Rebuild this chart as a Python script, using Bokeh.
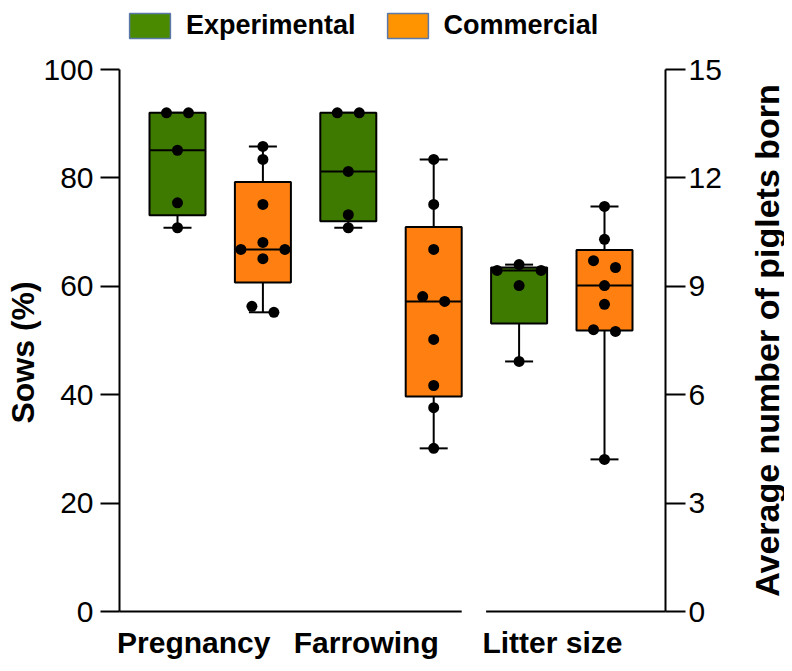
import numpy as np
from bokeh.plotting import figure
from bokeh.models import Range1d, LinearAxis, FixedTicker, Legend, LegendItem, Label
from bokeh.embed import file_html
from bokeh.resources import INLINE

# ---------------- data ----------------
groups = ["Pregnancy", "Farrowing", "Litter size"]
series_names = ["Experimental", "Commercial"]

pregnancy_experimental = [92.0, 92.0, 85.1, 75.4, 70.8]
pregnancy_commercial = [85.8, 83.4, 75.1, 68.1, 66.8, 66.8, 65.1, 56.3, 55.2]
farrowing_experimental = [92.0, 92.0, 81.2, 73.2, 70.8]
farrowing_commercial = [83.4, 75.1, 66.8, 58.1, 57.2, 50.2, 41.7, 37.6, 30.1]
litter_experimental = [9.6, 9.44, 9.44, 9.02, 6.92]
litter_commercial = [11.21, 10.30, 9.71, 9.52, 9.02, 8.50, 7.80, 7.75, 4.21]

left_ticks = [0, 20, 40, 60, 80, 100]
right_ticks = [0, 3, 6, 9, 12, 15]
left_title = "Sows (%)"
right_title_text = "Average number of piglets born"

# ---------------- layout / style ----------------
FONT = "Liberation Sans"
GREEN, ORANGE = "#3f7a00", "#ff8010"
LEG_GREEN, LEG_ORANGE, LEG_BORDER = "#4a8a00", "#ff9300", "#5a78a8"
W, H = 784, 663                 # canvas == frame
AX_L_PX, AX_R_PX = 119, 665     # screen x of the two value axes
TOP_PX, ZERO_PX = 69, 611       # screen y of axis top / zero line
BOX1_PX, PITCH_PX = 177, 85.4   # first box centre, box spacing
BOX_PX, DOT_PX = 56, 11
LABEL_SHIFT = [0.19, 0.21, 0.39]   # category label offset from group's first box
LEFT_MAX, RIGHT_MAX = left_ticks[-1], right_ticks[-1]

px_x = PITCH_PX
px_y = (ZERO_PX - TOP_PX) / LEFT_MAX
x_lo, x_hi = 1 - BOX1_PX / px_x, 1 + (W - BOX1_PX) / px_x
y_lo, y_hi = -(H - ZERO_PX) / px_y, LEFT_MAX + TOP_PX / px_y
X_AXIS_L = 1 - (BOX1_PX - AX_L_PX) / px_x
X_AXIS_R = 1 + (AX_R_PX - BOX1_PX) / px_x
box_w = BOX_PX / px_x
cap_w = box_w / 2

boxes = [
    (pregnancy_experimental, GREEN, 1.0),
    (pregnancy_commercial, ORANGE, 1.0),
    (farrowing_experimental, GREEN, 1.0),
    (farrowing_commercial, ORANGE, 1.0),
    (litter_experimental, GREEN, LEFT_MAX / RIGHT_MAX),
    (litter_commercial, ORANGE, LEFT_MAX / RIGHT_MAX),
]


def swarm(vals):
    """Beeswarm slot offsets (in dot units) for values in left-axis units."""
    ys = [v * px_y for v in vals]
    n = len(ys)
    order = sorted(range(n), key=lambda i: -ys[i])
    placed, slots = [], [0] * n
    for i in order:
        y = ys[i]
        for k in [0, 1, -1, 2, -2, 3, -3, 4, -4]:
            if all(not (abs(y - py) < DOT_PX and abs(k - pk) < 2) for py, pk in placed):
                break
        placed.append((y, k))
        slots[i] = k
    cluster, clusters = [order[0]], []
    for a, b in zip(order[:-1], order[1:]):
        if abs(ys[a] - ys[b]) < DOT_PX:
            cluster.append(b)
        else:
            clusters.append(cluster)
            cluster = [b]
    clusters.append(cluster)
    for c in clusters:
        ks = [slots[i] for i in c]
        shift = -(min(ks) + max(ks)) / 2
        for i in c:
            slots[i] += shift
    return slots


xc, q1s, meds, q3s, mins, maxs, fills = [], [], [], [], [], [], []
px_pts, py_pts = [], []
for idx, (vals, col, scale) in enumerate(boxes):
    x = idx + 1
    v = np.array(vals) * scale
    q1, med, q3 = np.percentile(v, [25, 50, 75], method="weibull")
    xc.append(x); q1s.append(q1); meds.append(med); q3s.append(q3)
    mins.append(v.min()); maxs.append(v.max()); fills.append(col)
    for s, val in zip(swarm(list(v)), v):
        px_pts.append(x + s * DOT_PX / px_x)
        py_pts.append(val)
xc = np.array(xc, dtype=float)

p = figure(width=W, height=H, x_range=Range1d(x_lo, x_hi), y_range=Range1d(y_lo, y_hi),
           x_axis_location=None, y_axis_location=None,
           output_backend="svg", toolbar_location=None, min_border=0,
           outline_line_color=None, background_fill_color="white", border_fill_color="white")
p.grid.visible = False

# whiskers + caps
p.segment(x0=xc, x1=xc, y0=q3s, y1=maxs, line_color="black", line_width=2)
p.segment(x0=xc, x1=xc, y0=q1s, y1=mins, line_color="black", line_width=2)
p.segment(x0=xc - cap_w / 2, x1=xc + cap_w / 2, y0=maxs, y1=maxs, line_color="black", line_width=2)
p.segment(x0=xc - cap_w / 2, x1=xc + cap_w / 2, y0=mins, y1=mins, line_color="black", line_width=2)
# boxes + medians
p.vbar(x=xc, width=box_w, top=q3s, bottom=q1s, fill_color=fills, line_color="black", line_width=2)
p.segment(x0=xc - box_w / 2, x1=xc + box_w / 2, y0=meds, y1=meds, line_color="black", line_width=2)
# individual points
p.scatter(px_pts, py_pts, size=DOT_PX, fill_color="black", line_color=None)

# broken x axis line
brk_l = 4 + box_w / 2
brk_r = 5 - box_w / 2 - 5 / px_x
p.segment(x0=[X_AXIS_L, brk_r], x1=[brk_l, X_AXIS_R], y0=[0, 0], y1=[0, 0],
          line_color="black", line_width=2)

# category axis (labels only)
label_x = [1 + 2 * i + LABEL_SHIFT[i] for i in range(len(groups))]
xa = LinearAxis(fixed_location=0, ticker=FixedTicker(ticks=label_x),
                major_label_overrides={lx: g for lx, g in zip(label_x, groups)})
xa.axis_line_color = None
xa.major_tick_line_color = None
xa.minor_tick_line_color = None
xa.major_tick_out = 0
xa.major_label_standoff = 14
xa.major_label_text_font = FONT
xa.major_label_text_font_style = "bold"
xa.major_label_text_font_size = "30px"
xa.major_label_text_color = "black"
p.add_layout(xa, "below")

# left axis
ya = LinearAxis(fixed_location=X_AXIS_L, ticker=FixedTicker(ticks=left_ticks), bounds=(0, LEFT_MAX))
ya.axis_line_width = 2
ya.major_tick_line_width = 2
ya.major_tick_out = 19
ya.major_tick_in = 0
ya.minor_tick_line_color = None
ya.major_label_text_font = FONT
ya.major_label_text_font_size = "30px"
ya.major_label_text_color = "black"
ya.major_label_standoff = 7
p.add_layout(ya, "left")

# right axis
p.extra_y_ranges = {"right": Range1d(y_lo * RIGHT_MAX / LEFT_MAX, y_hi * RIGHT_MAX / LEFT_MAX)}
ra = LinearAxis(y_range_name="right", fixed_location=X_AXIS_R,
                ticker=FixedTicker(ticks=right_ticks), bounds=(0, RIGHT_MAX))
ra.axis_line_width = 2
ra.major_tick_line_width = 2
ra.major_tick_out = 20
ra.major_tick_in = 0
ra.minor_tick_line_color = None
ra.major_label_text_font = FONT
ra.major_label_text_font_size = "30px"
ra.major_label_text_color = "black"
ra.major_label_standoff = 3
p.add_layout(ra, "right")

# axis titles (vertical, reading bottom-to-top)
title_style = dict(angle=90, angle_units="deg", text_align="center", text_baseline="middle",
                   text_font=FONT, text_font_style="bold", text_color="black")
p.add_layout(Label(x=X_AXIS_L - 97 / px_x, y=LEFT_MAX * 0.478, text=left_title,
                   text_font_size="32px", **title_style))
p.add_layout(Label(x=X_AXIS_R + 101 / px_x, y=LEFT_MAX / 2, text=right_title_text,
                   text_font_size="34px", **title_style))

# legend (swatch renderers sit outside the visible range)
leg_r = [
    p.quad(left=[x_hi + 1], right=[x_hi + 2], top=[1], bottom=[0],
           fill_color=c, line_color=LEG_BORDER, line_width=1.5)
    for c in (LEG_GREEN, LEG_ORANGE)
]
legend = Legend(items=[LegendItem(label=s, renderers=[r]) for s, r in zip(series_names, leg_r)],
                orientation="horizontal", location=(124, H - 45),
                glyph_width=51, glyph_height=31, label_height=40, label_standoff=11, spacing=26,
                padding=0, margin=0, border_line_color=None, background_fill_alpha=0,
                label_text_font=FONT, label_text_font_style="bold",
                label_text_font_size="27px", label_text_color="black")
p.add_layout(legend)

open("out.html", "w").write(file_html(p, INLINE))
